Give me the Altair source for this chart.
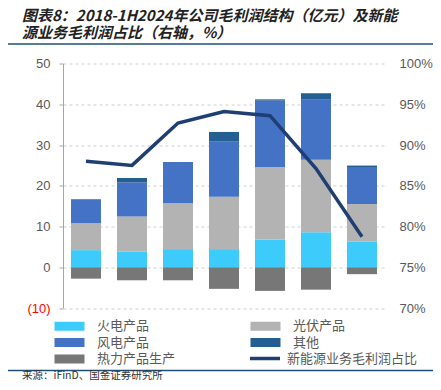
import altair as alt
import pandas as pd

years = ["2018", "2019", "2020", "2021", "2022", "2023", "1H2024"]
series = ["火电产品", "光伏产品", "风电产品", "其他", "热力产品生产"]
colors = ["#3CCBFB", "#B3B3B3", "#4472C4", "#245E92", "#777777"]

thermal = [4.2, 3.9, 4.45, 4.45, 6.8, 8.6, 6.25]      # 火电产品
solar = [6.6, 8.55, 11.25, 12.85, 17.8, 17.8, 9.25]   # 光伏产品
wind = [5.9, 8.35, 10.1, 13.6, 16.3, 14.8, 9.1]       # 风电产品
other = [0.0, 1.1, 0.0, 2.3, 0.3, 1.5, 0.35]          # 其他
heat = [-2.8, -3.2, -3.2, -5.3, -5.8, -5.5, -1.7]     # 热力产品生产
ratio = [88.0, 87.5, 92.7, 94.1, 93.6, 87.1, 78.75]   # 新能源业务毛利润占比 (%)

line_name = "新能源业务毛利润占比"
title1 = "图表8：2018-1H2024年公司毛利润结构（亿元）及新能"
title2 = "源业务毛利润占比（右轴，%）"
source = "来源：iFinD、国金证券研究所"

rows = []
for s_i, (name, vals) in enumerate(zip(series, [thermal, solar, wind, other, heat])):
    for y, v in zip(years, vals):
        rows.append({"year": y, "series": name, "value": v, "ord": s_i})
df = pd.DataFrame(rows)
df_line = pd.DataFrame({"year": years, "ratio": ratio, "name": [line_name] * len(years)})

GRAY = "#595959"
FONT = "Liberation Sans"
CJK = "Noto Sans CJK SC"

xscale = alt.Scale(paddingInner=0.348, paddingOuter=0.174)

RECT = "M-2.5,-0.75L2.5,-0.75L2.5,0.75L-2.5,0.75Z"
STROKE = "M-2.5,0L2.5,0"

bars = alt.Chart(df).mark_bar().encode(
    x=alt.X("year:N", sort=years, scale=xscale,
            axis=alt.Axis(title=None, labelAngle=0, offset=-40.5, labelPadding=20,
                          tickBand="extent", domainColor="#A6A6A6", tickColor="#A6A6A6",
                          tickSize=4, labelColor=GRAY, labelFontSize=13, labelFont=FONT,
                          grid=False)),
    y=alt.Y("value:Q", stack="zero",
            scale=alt.Scale(domain=[-10, 50], nice=False),
            axis=alt.Axis(title=None, values=[-10, 0, 10, 20, 30, 40, 50],
                          labelExpr="datum.value < 0 ? '(' + (-datum.value) + ')' : datum.label",
                          labelColor={"condition": {"test": "datum.value < 0", "value": "#FF0000"}, "value": GRAY},
                          labelFontSize=13, labelFont=FONT, labelPadding=9,
                          tickSize=4, tickColor="#A6A6A6", domainColor="#A6A6A6",
                          grid=True, gridDash=[3, 3], gridColor="#CFCFCF")),
    color=alt.Color("series:N", scale=alt.Scale(domain=series, range=colors),
                    legend=alt.Legend(title=None, orient="none", legendX=0, legendY=256,
                                      direction="horizontal",
                                      columns=2, columnPadding=74, rowPadding=2.5,
                                      symbolType=RECT,
                                      symbolSize=144, symbolStrokeWidth=0,
                                      labelOffset=21, labelFont=CJK, labelFontSize=13,
                                      labelColor=GRAY, labelLimit=200)),
    order=alt.Order("ord:Q"),
)

line = alt.Chart(df_line).mark_line(strokeWidth=3.5).encode(
    x=alt.X("year:N", sort=years, scale=xscale, axis=None),
    y=alt.Y("ratio:Q", scale=alt.Scale(domain=[70, 100], nice=False),
            axis=alt.Axis(title=None, orient="right", values=[70, 75, 80, 85, 90, 95, 100],
                          labelExpr="datum.value + '%'", domain=False, ticks=False,
                          grid=False, labelPadding=14, labelColor=GRAY,
                          labelFontSize=13, labelFont=FONT)),
    stroke=alt.Stroke("name:N", scale=alt.Scale(domain=[line_name], range=["#1F3E74"]),
                      legend=alt.Legend(title=None, orient="none", legendX=194, legendY=287,
                                        symbolType=STROKE, symbolSize=144,
                                        symbolStrokeWidth=3.5, labelOffset=14,
                                        labelFont=CJK, labelFontSize=13, labelColor=GRAY,
                                        labelLimit=200)),
)

one = pd.DataFrame({"k": [0]})
t1 = alt.Chart(one).mark_text(align="left", baseline="top", font=CJK, fontSize=15,
                              fontWeight="bold", fontStyle="italic", color="#222222").encode(
    x=alt.value(-41), y=alt.value(-54.5), text=alt.value(title1))
t2 = alt.Chart(one).mark_text(align="left", baseline="top", font=CJK, fontSize=15,
                              fontWeight="bold", fontStyle="italic", color="#222222").encode(
    x=alt.value(-41), y=alt.value(-38), text=alt.value(title2))
sep1 = alt.Chart(one).mark_rule(color="#1F4E79", strokeWidth=1.5).encode(
    x=alt.value(-55), x2=alt.value(370), y=alt.value(-19.5))
sep2 = alt.Chart(one).mark_rule(color="#1F4E79", strokeWidth=1.5).encode(
    x=alt.value(-55), x2=alt.value(370), y=alt.value(307))
src = alt.Chart(one).mark_text(align="left", baseline="middle", font=CJK, fontSize=10.5,
                               color="#333333").encode(
    x=alt.value(-41), y=alt.value(312.8), text=alt.value(source))

chart = alt.layer(bars, line, t1, t2, sep1, sep2, src).resolve_scale(
    y="independent", color="independent", stroke="independent"
).properties(
    width=322, height=244.5,
    autosize=alt.AutoSizeParams(type="none"),
    padding={"left": 55, "top": 55.5, "right": 48, "bottom": 74},
).configure_view(stroke=None)

chart.save("out.html", embed_options={"renderer": "svg", "actions": False})
